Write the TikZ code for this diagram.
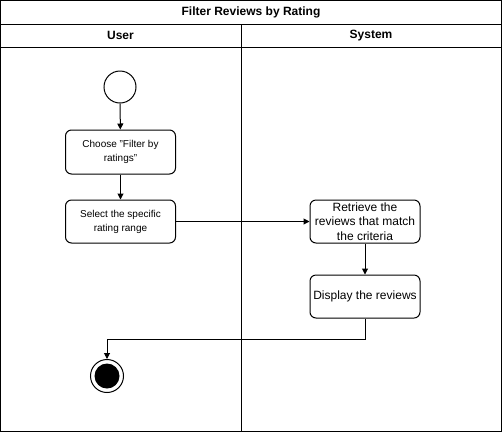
\documentclass[tikz,border=0pt]{standalone}
\usepackage{fontspec}
\setmainfont{Liberation Sans}
\usetikzlibrary{arrows.meta}
\begin{document}
\begin{tikzpicture}[x=1pt,y=-1pt,
  frame/.style={draw=black,line width=1pt},
  act/.style={draw=black,line width=1pt,rounded corners=6pt,minimum width=110pt,minimum height=43pt,inner sep=2pt,align=center},
  smalltxt/.style={font=\fontsize{10}{14}\selectfont},
  bigtxt/.style={font=\fontsize{12}{14.5}\selectfont},
  head/.style={font=\bfseries\fontsize{12}{14}\selectfont},
  arr/.style={draw=black,line width=1pt,-{Triangle[length=6pt,width=6pt]}}]
\useasboundingbox (0,0) rectangle (502,432);
\fill[white] (0,0) rectangle (502,432);
% swimlane frame
\draw[frame] (0.5,0.5) rectangle (501.5,431.5);
\draw[frame] (0.5,24) -- (501.5,24);
\draw[frame] (0.5,47) -- (501.5,47);
\draw[frame] (241,24) -- (241,431.5);
\node[head] (title) at (251,12) {Filter Reviews by Rating};
\node[head] (user) at (120.5,35.5) {User};
\node[head] (system) at (371,35.5) {System};
% nodes
\node[draw=black,line width=1pt,circle,minimum size=32pt,inner sep=0] (start) at (120,87) {};
\node[act,smalltxt,minimum height=44pt] (choose) at (120.5,152) {Choose "Filter by\\ratings"};
\node[act,smalltxt] (select) at (120.5,221.5) {Select the specific\\rating range};
\node[act,bigtxt] (retrieve) at (365,221.5) {Retrieve the\\reviews that match\\the criteria};
\node[act,bigtxt] (display) at (365,296.5) {Display the reviews};
\node[draw=black,line width=1pt,circle,minimum size=33pt,inner sep=0] (final) at (107,376) {};
\node[fill=black,circle,minimum size=25pt,inner sep=0] (finalin) at (107,376) {};
% connectors
\draw[arr] (start) -- (choose);
\draw[arr] (choose) -- (select);
\draw[arr] (select) -- (retrieve);
\draw[arr] (retrieve) -- (display);
\draw[arr] (display.south) -- ++(0,21) -| (final.north);
\end{tikzpicture}
\end{document}
